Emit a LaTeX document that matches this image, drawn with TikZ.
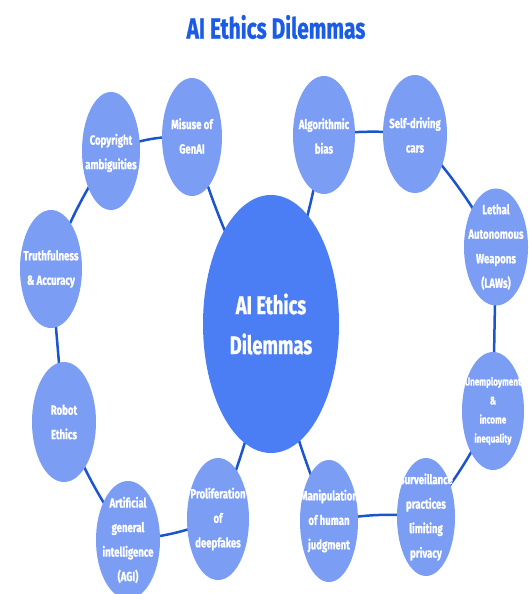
\documentclass[tikz,border=0pt]{standalone}
\usepackage{fontspec}
\setmainfont{Fira Sans}[FakeStretch=0.72, BoldFeatures={FakeBold=0.8}]
\usetikzlibrary{shapes.geometric}
\definecolor{titleblue}{HTML}{1A5CE6}
\definecolor{outerfill}{HTML}{7B9DF4}
\definecolor{centerfill}{HTML}{4B7EF5}
\definecolor{linkblue}{HTML}{1A55CC}
\tikzset{
  bubble/.style={ellipse, fill=outerfill, draw=none, inner sep=0pt, minimum width=62pt, minimum height=118pt},
  hub/.style={ellipse, fill=centerfill, draw=none, inner sep=0pt, minimum width=136pt, minimum height=258pt},
  lab/.style={text=white, font=\bfseries\fontsize{13.3}{24.5}\selectfont, align=center, inner sep=0pt},
  smalllab/.style={text=white, font=\bfseries\fontsize{11.2}{19}\selectfont, align=center, inner sep=0pt},
  hublab/.style={text=white, font=\bfseries\fontsize{25.5}{40}\selectfont, align=center, inner sep=0pt},
  link/.style={draw=linkblue, line width=2.5pt},
}
\begin{document}
\begin{tikzpicture}[x=1pt,y=-1pt]
\useasboundingbox[fill=white] (0,0) rectangle (529,594);
\node[text=titleblue, font=\bfseries\fontsize{29}{31}\selectfont, inner sep=0pt] (title) at (276,27) {AI Ethics Dilemmas};

% links first (behind ellipses)
\coordinate (cC) at (271,324);
\coordinate (cCopy) at (111,151);
\coordinate (cMis) at (192,137);
\coordinate (cAlg) at (324,135);
\coordinate (cSelf) at (415,134);
\coordinate (cLeth) at (496,247);
\coordinate (cUnem) at (493,411);
\coordinate (cSurv) at (426,517);
\coordinate (cMan) at (329,521);
\coordinate (cProl) at (218,519);
\coordinate (cAGI) at (128,540);
\coordinate (cRob) at (64,422);
\coordinate (cTru) at (51,269);

\draw[link] (cCopy) to[bend left=12] (cMis);
\draw[link] (cMis) to[bend right=6] (cC);
\draw[link] (cAlg) to[bend left=6] (cC);
\draw[link] (cAlg) to[bend left=6] (cSelf);
\draw[link] (cSelf) to[bend left=6] (cLeth);
\draw[link] (cLeth) to (cUnem);
\draw[link] (cUnem) to[bend left=6] (cSurv);
\draw[link] (cSurv) to[bend right=8] (cMan);
\draw[link] (cMan) to[bend left=6] (cC);
\draw[link] (cProl) to[bend right=6] (cC);
\draw[link] (cProl) to[bend left=8] (cAGI);
\draw[link] (cAGI) to[bend left=6] (cRob);
\draw[link] (cRob) to (cTru);
\draw[link] (cTru) to[bend left=6] (cCopy);

\node[hub] (center) at (cC) {};
\node[hublab] (center-t) at (center) {AI Ethics\\Dilemmas};

\node[bubble, minimum width=58pt] (copy) at (cCopy) {};
\node[lab] (copy-t) at ([yshift=-2pt]copy.center) {Copyright\\ambiguities};

\node[bubble, minimum width=60pt] (mis) at (cMis) {};
\node[lab] (mis-t) at ([yshift=1pt]mis.center) {Misuse of\\GenAI};

\node[bubble] (alg) at (cAlg) {};
\node[lab] (alg-t) at ([yshift=-1pt]alg.center) {Algorithmic\\bias};

\node[bubble, minimum width=64pt] (self) at (cSelf) {};
\node[lab] (self-t) at ([yshift=-1pt]self.center) {Self-driving\\cars};

\node[bubble, minimum width=64pt, minimum height=117pt] (leth) at (cLeth) {};
\node[lab] (leth-t) at (leth.center) {Lethal\\Autonomous\\Weapons\\(LAWs)};

\node[bubble] (unem) at (cUnem) {};
\node[smalllab] (unem-t) at (unem.center) {Unemployment\\\&\\income\\inequality};

\node[bubble, minimum width=58pt] (surv) at (cSurv) {};
\node[lab] (surv-t) at (surv.center) {Surveillance\\practices\\limiting\\privacy};

\node[bubble, minimum width=58pt, minimum height=122pt] (man) at (cMan) {};
\node[lab] (man-t) at (man.center) {Manipulation\\of human\\judgment};

\node[bubble, minimum height=122pt] (prol) at (cProl) {};
\node[lab] (prol-t) at (prol.center) {Proliferation\\of\\deepfakes};

\node[bubble, minimum width=64pt] (agi) at (cAGI) {};
\node[lab] (agi-t) at (agi.center) {Artificial\\general\\intelligence\\(AGI)};

\node[bubble, minimum width=64pt, minimum height=120pt] (rob) at (cRob) {};
\node[lab] (rob-t) at (rob.center) {Robot\\Ethics};

\node[bubble] (tru) at (cTru) {};
\node[lab] (tru-t) at (tru.center) {Truthfulness\\\& Accuracy};
\end{tikzpicture}
\end{document}
